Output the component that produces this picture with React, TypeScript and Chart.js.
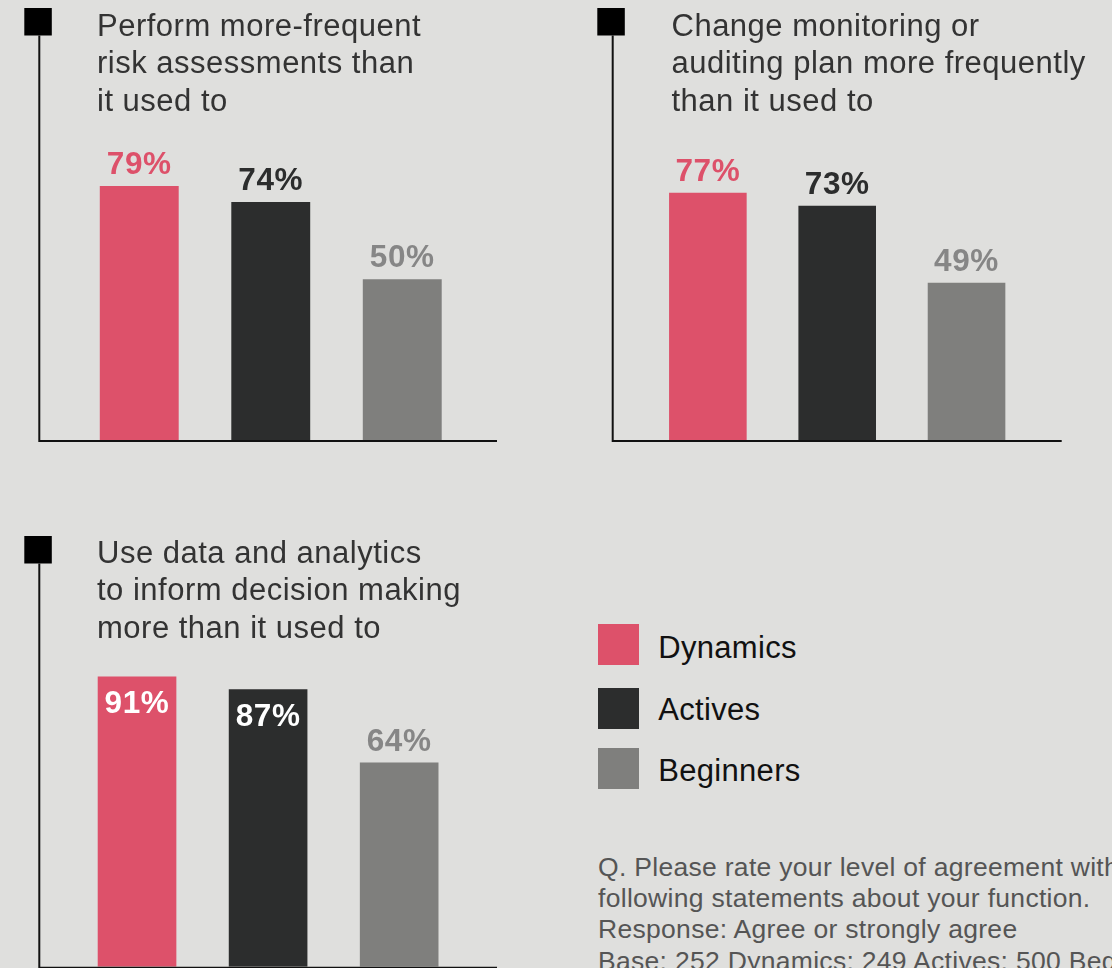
import React, { useEffect, useRef } from 'react';
import { Chart, registerables } from 'chart.js';

Chart.register(...registerables);

// ---------- data ----------
const SERIES = ['Dynamics', 'Actives', 'Beginners'];
const BAR_COLORS = ['#dd516a', '#2c2d2d', '#7f7f7d'];
const LABEL_COLORS = ['#dd516a', '#2c2d2d', '#868686'];

const TITLE_1 = ['Perform more-frequent', 'risk assessments than', 'it used to'];
const TITLE_2 = ['Change monitoring or', 'auditing plan more frequently', 'than it used to'];
const TITLE_3 = ['Use data and analytics', 'to inform decision making', 'more than it used to'];

const VALUES_1 = [79, 74, 50];
const VALUES_2 = [77, 73, 49];
const VALUES_3 = [91, 87, 64];

const INSIDE_1 = [false, false, false];
const INSIDE_2 = [false, false, false];
const INSIDE_3 = [true, true, false];

const NOTE_LINES = [
  'Q. Please rate your level of agreement with the',
  'following statements about your function.',
  'Response: Agree or strongly agree',
  'Base: 252 Dynamics; 249 Actives; 500 Beginners',
];

const FONT = '"Liberation Sans", Arial, Helvetica, sans-serif';
const BG = '#dfdfdd';

type Geo = {
  left: number;
  top: number;
  width: number;
  height: number;
  area: { l: number; r: number; t: number; b: number };
  axisX: number;
  sq: { x: number; y: number; s: number };
  lineRight: number;
};

function Panel({ values, inside, geo }: { values: number[]; inside: boolean[]; geo: Geo }) {
  const ref = useRef<HTMLCanvasElement>(null);

  useEffect(() => {
    const canvas = ref.current;
    if (!canvas) return;

    const framePlugin = {
      id: 'frame',
      afterDatasetsDraw(chart: any) {
        const ctx = chart.ctx;
        const b = chart.chartArea.bottom;
        ctx.save();
        ctx.fillStyle = '#000';
        ctx.fillRect(geo.sq.x, geo.sq.y, geo.sq.s, geo.sq.s);
        ctx.strokeStyle = '#111';
        ctx.lineWidth = 2;
        ctx.beginPath();
        ctx.moveTo(geo.axisX, geo.sq.y + geo.sq.s);
        ctx.lineTo(geo.axisX, b + 2);
        ctx.moveTo(geo.axisX - 1, b + 1);
        ctx.lineTo(geo.lineRight, b + 1);
        ctx.stroke();
        ctx.restore();
      },
    };

    const labelPlugin = {
      id: 'valueLabels',
      afterDatasetsDraw(chart: any) {
        const ctx = chart.ctx;
        const meta = chart.getDatasetMeta(0);
        ctx.save();
        ctx.font = `bold 31.5px ${FONT}`;
        (ctx as any).letterSpacing = '0.6px';
        ctx.textAlign = 'center';
        ctx.textBaseline = 'alphabetic';
        meta.data.forEach((bar: any, i: number) => {
          const txt = `${values[i]}%`;
          if (inside[i]) {
            ctx.fillStyle = '#ffffff';
            ctx.fillText(txt, bar.x, bar.y + 37);
          } else {
            ctx.fillStyle = LABEL_COLORS[i];
            ctx.fillText(txt, bar.x, bar.y - 12);
          }
        });
        ctx.restore();
      },
    };

    const chart = new Chart(canvas, {
      type: 'bar',
      data: {
        labels: SERIES,
        datasets: [
          {
            data: values,
            backgroundColor: BAR_COLORS,
            borderWidth: 0,
            categoryPercentage: 1,
            barPercentage: 0.6,
          },
        ],
      },
      options: {
        animation: false,
        responsive: false,
        maintainAspectRatio: false,
        devicePixelRatio: 1,
        layout: {
          padding: {
            left: geo.area.l,
            right: geo.width - geo.area.r,
            top: geo.area.t,
            bottom: geo.height - geo.area.b,
          },
        },
        scales: {
          x: { display: false, offset: true },
          y: { display: false, min: 0, max: 100 },
        },
        plugins: {
          legend: { display: false },
          tooltip: { enabled: false },
          title: { display: false },
        },
      },
      plugins: [framePlugin, labelPlugin],
    } as any);

    return () => chart.destroy();
  }, []);

  return (
    <canvas
      ref={ref}
      width={geo.width}
      height={geo.height}
      style={{ position: 'absolute', left: geo.left, top: geo.top, width: geo.width, height: geo.height }}
    />
  );
}

function Title({ lines, left, top }: { lines: string[]; left: number; top: number }) {
  return (
    <div
      style={{
        position: 'absolute',
        left,
        top,
        fontFamily: FONT,
        fontSize: 31,
        lineHeight: '37.5px',
        letterSpacing: '0.5px',
        color: '#333333',
        whiteSpace: 'nowrap',
      }}
    >
      {lines.map((l, i) => (
        <div key={i}>{l}</div>
      ))}
    </div>
  );
}

const GEO_1: Geo = {
  left: 0,
  top: 0,
  width: 540,
  height: 460,
  area: { l: 73.5, r: 468, t: 118.5, b: 440 },
  axisX: 39.3,
  sq: { x: 24.3, y: 8, s: 27.5 },
  lineRight: 497,
};

const GEO_2: Geo = {
  left: 580,
  top: 0,
  width: 532,
  height: 460,
  area: { l: 63.2, r: 451.2, t: 119, b: 440 },
  axisX: 32.7,
  sq: { x: 17.3, y: 8, s: 27.5 },
  lineRight: 481.7,
};

const GEO_3: Geo = {
  left: 0,
  top: 520,
  width: 540,
  height: 448,
  area: { l: 71.5, r: 464.7, t: 127.7, b: 446.7 },
  axisX: 39.3,
  sq: { x: 24.3, y: 16, s: 27.5 },
  lineRight: 497,
};

const LEGEND_TOPS = [624, 688, 748];
const LEGEND_TEXT_TOPS = [632.6, 695.3, 756];

export default function App() {
  return (
    <div
      style={{
        position: 'fixed',
        left: 0,
        top: 0,
        width: 1112,
        height: 968,
        overflow: 'hidden',
        background: BG,
        fontFamily: FONT,
      }}
    >
      <Panel values={VALUES_1} inside={INSIDE_1} geo={GEO_1} />
      <Panel values={VALUES_2} inside={INSIDE_2} geo={GEO_2} />
      <Panel values={VALUES_3} inside={INSIDE_3} geo={GEO_3} />

      <Title lines={TITLE_1} left={97} top={6.5} />
      <Title lines={TITLE_2} left={671.5} top={6.5} />
      <Title lines={TITLE_3} left={97} top={533.5} />

      {SERIES.map((s, i) => (
        <React.Fragment key={s}>
          <div
            style={{
              position: 'absolute',
              left: 597.7,
              top: LEGEND_TOPS[i],
              width: 41,
              height: 41,
              background: BAR_COLORS[i],
            }}
          />
          <div
            style={{
              position: 'absolute',
              left: 658.3,
              top: LEGEND_TEXT_TOPS[i],
              fontSize: 31,
              lineHeight: '30px',
              letterSpacing: '0.3px',
              color: '#111111',
              whiteSpace: 'nowrap',
            }}
          >
            {s}
          </div>
        </React.Fragment>
      ))}

      <div
        style={{
          position: 'absolute',
          left: 598,
          top: 851.9,
          fontSize: 26.5,
          lineHeight: '31.3px',
          letterSpacing: '0.3px',
          color: '#555555',
          whiteSpace: 'nowrap',
        }}
      >
        {NOTE_LINES.map((l, i) => (
          <div key={i}>{l}</div>
        ))}
      </div>
    </div>
  );
}
